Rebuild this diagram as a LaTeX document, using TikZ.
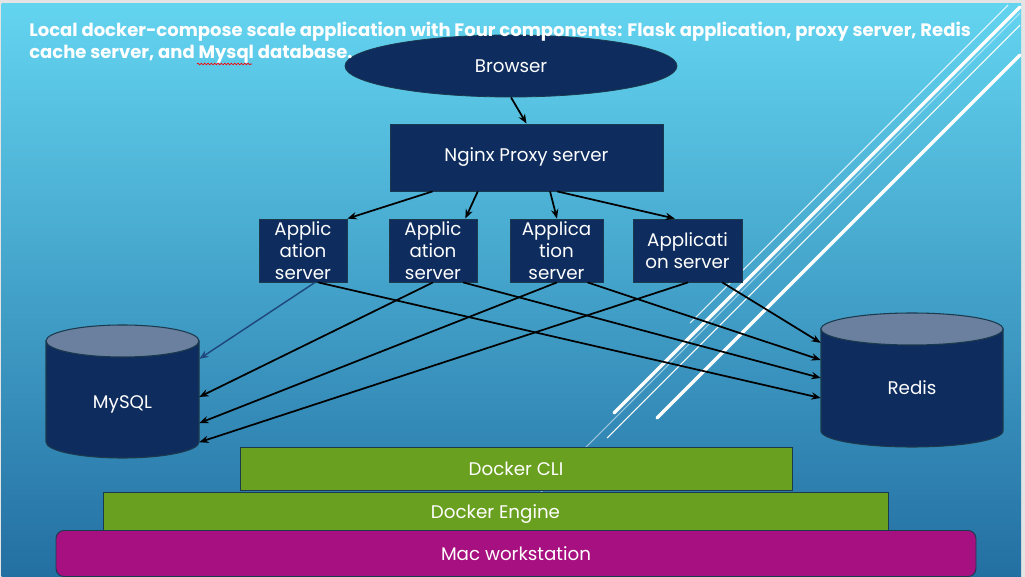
\documentclass[tikz,border=0pt]{standalone}
\usepackage{fontspec}
\setmainfont{Poppins}
\usetikzlibrary{arrows.meta,calc,shapes.geometric,decorations.pathmorphing}
\definecolor{navy}{RGB}{14,45,94}
\definecolor{boxedge}{RGB}{28,58,78}
\definecolor{cyltop}{RGB}{106,128,158}
\definecolor{green1}{RGB}{106,160,32}
\definecolor{magenta1}{RGB}{167,16,128}
\definecolor{bgtop}{RGB}{99,212,240}
\definecolor{bgbot}{RGB}{35,111,162}
\definecolor{framegray}{RGB}{228,228,228}
\definecolor{bluearrow}{RGB}{31,73,125}
\begin{document}
\begin{tikzpicture}[x=0.75pt,y=-0.75pt,
  boxfont/.style={font=\fontsize{13.7}{16.5}\selectfont},
  navybox/.style={rectangle,fill=navy,draw=boxedge,line width=0.6pt,text=white,inner sep=0pt,align=center,boxfont},
  appbox/.style={navybox,minimum height=47.25pt},
  layer/.style={rectangle,draw=boxedge,line width=0.7pt,text=white,inner sep=0pt,text depth=0pt,boxfont},
  dbnode/.style={rectangle,inner sep=0pt,draw=none},
  dblabel/.style={text=white,inner sep=0pt,boxfont},
  conn/.style={-{Stealth[length=7pt,width=5.5pt]},line width=1.3pt,black},
  stripethick/.style={white,line width=2.4pt,line cap=round},
  stripethin/.style={white,line width=0.8pt},
  titlestyle/.style={text=white,inner sep=0pt,font=\fontsize{13.5}{16.5}\selectfont\bfseries}
]
\useasboundingbox (0,0) rectangle (1025,577);
\fill[framegray] (0,0) rectangle (1025,577);
\shade[top color=bgtop,bottom color=bgbot] (1.5,4) rectangle (1021,577);

% decorative stripes
\draw[stripethin,opacity=0.5] (530,503) -- (1020,13);
\draw[stripethick] (614,413) -- (1020,7);
\draw[stripethin] (607,438) -- (1020,25);
\draw[stripethick] (657,418) -- (1020,55);
\draw[stripethin,opacity=0.85] (690,323) -- (1008,5);

% MySQL cylinder
\filldraw[fill=navy,draw=boxedge,line width=0.8pt] (46,341) -- (46,442)
  arc[start angle=180,end angle=360,x radius=57.375pt,y radius=12pt] -- (199,341) -- cycle;
\filldraw[fill=cyltop,draw=boxedge,line width=0.8pt] (122.5,341) ellipse[x radius=57.375pt,y radius=12pt];
\node[dbnode,minimum width=114.75pt,minimum height=99.75pt] (mysql) at (122.5,391.5) {};
\node[dblabel] (mysqllabel) at (122.5,404) {MySQL};

% Redis cylinder
\filldraw[fill=navy,draw=boxedge,line width=0.8pt] (821,329) -- (821,431)
  arc[start angle=180,end angle=360,x radius=68.25pt,y radius=12pt] -- (1003,329) -- cycle;
\filldraw[fill=cyltop,draw=boxedge,line width=0.8pt] (912,329) ellipse[x radius=68.25pt,y radius=12pt];
\node[dbnode,minimum width=136.5pt,minimum height=100.5pt] (redis) at (912,380) {};
\node[dblabel] (redislabel) at (912,388) {Redis};

% top part
\node[ellipse,fill=navy,draw=boxedge,line width=0.6pt,text=white,inner sep=0pt,
  minimum width=249pt,minimum height=46.5pt,boxfont] (browser) at (511,66) {Browser};
\node[navybox,minimum width=204.75pt,minimum height=50.25pt] (nginx) at (526.5,157.5) {Nginx Proxy server};

\node[appbox,minimum width=66pt] (a1) at (303,250.5) {Applic\\ation\\server};
\node[appbox,minimum width=66pt] (a2) at (433,250.5) {Applic\\ation\\server};
\node[appbox,minimum width=69.75pt] (a3) at (556.5,250.5) {Applica\\tion\\server};
\node[appbox,minimum width=81.75pt] (a4) at (687.5,250.5) {Applicati\\on server};

% layers
\node[layer,fill=green1,minimum width=414pt,minimum height=32.25pt] (cli) at (516,468.5) {Docker CLI};
\node[layer,fill=green1,minimum width=588.75pt,minimum height=28.5pt] (engine) at (495.5,511.5) {Docker Engine};
\node[layer,fill=magenta1,rounded corners=6pt,minimum width=690pt,minimum height=34.5pt] (mac) at (516,553.5) {Mac workstation};

% connectors
\draw[conn] (browser.south) -- (nginx.north);
\draw[conn] ($(nginx.south west)!0.157!(nginx.south east)$) -- (a1.north east);
\draw[conn] ($(nginx.south west)!0.322!(nginx.south east)$) -- ($(a2.north west)!0.864!(a2.north east)$);
\draw[conn] ($(nginx.south west)!0.586!(nginx.south east)$) -- ($(a3.north west)!0.505!(a3.north east)$);
\draw[conn] ($(nginx.south west)!0.612!(nginx.south east)$) -- ($(a4.north west)!0.385!(a4.north east)$);

\draw[-{Stealth[length=7pt,width=5.5pt]},line width=1.1pt,bluearrow]
  ($(a1.south west)!0.636!(a1.south east)$) -- ($(mysql.north east)!0.256!(mysql.south east)$);
\draw[conn] ($(a2.south west)!0.5!(a2.south east)$) -- ($(mysql.north east)!0.541!(mysql.south east)$);
\draw[conn] ($(a3.south west)!0.505!(a3.south east)$) -- ($(mysql.north east)!0.737!(mysql.south east)$);
\draw[conn] ($(a4.south west)!0.505!(a4.south east)$) -- ($(mysql.north east)!0.88!(mysql.south east)$);

\draw[conn] ($(a1.south west)!0.67!(a1.south east)$) -- ($(redis.north west)!0.634!(redis.south west)$);
\draw[conn] ($(a2.south west)!0.84!(a2.south east)$) -- ($(redis.north west)!0.485!(redis.south west)$);
\draw[conn] ($(a3.south west)!0.83!(a3.south east)$) -- ($(redis.north west)!0.351!(redis.south west)$);
\draw[conn] ($(a4.south west)!0.817!(a4.south east)$) -- ($(redis.north west)!0.224!(redis.south west)$);

% title
\node[titlestyle,anchor=base west] (title1) at (29,37) {Local docker-compose scale application with Four components: Flask application, proxy server, Redis};
\node[titlestyle,anchor=base west] (title2) at (29,59) {cache server, and Mysql database.};
\draw[red,line width=0.5pt,decorate,decoration={snake,amplitude=0.6pt,segment length=2.5pt}] (197,64) -- (252,64);
\end{tikzpicture}
\end{document}
